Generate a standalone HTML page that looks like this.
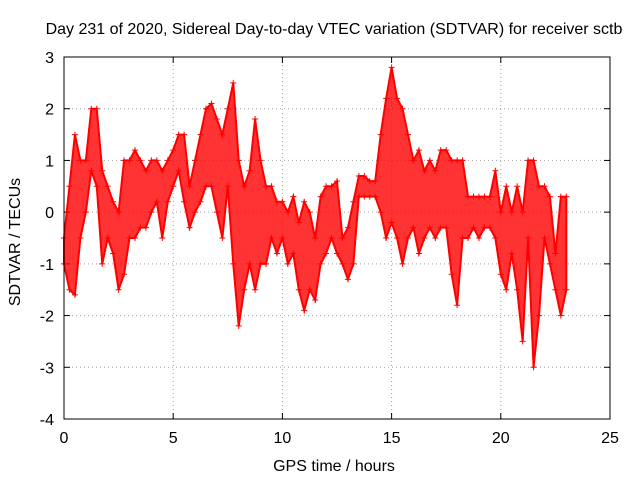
<!DOCTYPE html>
<html><head><meta charset="utf-8">
<style>
body{margin:0;background:#fff;}
svg text{font-family:"Liberation Sans",sans-serif;fill:#000;}
</style></head>
<body>
<svg id="chart" width="640" height="480" viewBox="0 0 640 480" xmlns="http://www.w3.org/2000/svg">
<rect width="640" height="480" fill="#fff"/>
<text x="334" y="34" font-size="16" text-anchor="middle">Day 231 of 2020, Sidereal Day-to-day VTEC variation (SDTVAR) for receiver sctb</text>
<g id="grid"></g>
<g id="ticks"></g>
<g id="series"></g>
<rect x="64" y="57" width="546" height="362" fill="none" stroke="#000" stroke-width="1"/>
<text x="334" y="471" font-size="16" text-anchor="middle">GPS time / hours</text>
<text x="0" y="0" font-size="16" text-anchor="middle" transform="translate(20,242) rotate(-90)">SDTVAR / TECUs</text>
</svg>
<script>
const xTicks=[0,5,10,15,20,25];
const yTicks=[-4,-3,-2,-1,0,1,2,3];
const times=[0,0.25,0.5,0.75,1,1.25,1.5,1.75,2,2.25,2.5,2.75,3,3.25,3.5,3.75,4,4.25,4.5,4.75,5,5.25,5.5,5.75,6,6.25,6.5,6.75,7,7.25,7.5,7.75,8,8.25,8.5,8.75,9,9.25,9.5,9.75,10,10.25,10.5,10.75,11,11.25,11.5,11.75,12,12.25,12.5,12.75,13,13.25,13.5,13.75,14,14.25,14.5,14.75,15,15.25,15.5,15.75,16,16.25,16.5,16.75,17,17.25,17.5,17.75,18,18.25,18.5,18.75,19,19.25,19.5,19.75,20,20.25,20.5,20.75,21,21.25,21.5,21.75,22,22.25,22.5,22.75,23];
const hiVals=[-0.5,0.5,1.5,1.0,1.0,2.0,2.0,0.8,0.5,0.2,0,1.0,1.0,1.2,1.0,0.8,1.0,1.0,0.8,1.0,1.2,1.5,1.5,0.5,1.0,1.5,2.0,2.1,1.8,1.5,2.0,2.5,1.0,0.5,0.8,1.8,1.0,0.5,0.5,0.2,0.2,0,0.3,-0.2,0.2,0,-0.5,0.3,0.5,0.5,0.6,-0.5,-0.3,0.2,0.7,0.7,0.6,0.6,1.5,2.2,2.8,2.2,2.0,1.5,1.0,1.2,0.8,1.0,0.8,1.2,1.2,1.0,1.0,1.0,0.3,0.3,0.3,0.3,0.3,0.8,0,0.5,0,0.5,0,1.0,1.0,0.5,0.5,0.3,-0.8,0.3,0.3];
const loVals=[-1.0,-1.5,-1.6,-0.5,0,0.8,0.5,-1.0,-0.5,-0.8,-1.5,-1.2,-0.5,-0.5,-0.3,-0.3,0,0.2,-0.5,0.2,0.5,0.8,0.2,-0.3,0,0.2,0.5,0.5,0,-0.5,0.5,-1.0,-2.2,-1.5,-1.0,-1.5,-1.0,-1.0,-0.5,-0.8,-0.5,-1.0,-0.8,-1.5,-1.9,-1.5,-1.7,-1.0,-0.8,-0.5,-0.8,-1.0,-1.3,-1.0,0.3,0.3,0.3,0.3,0,-0.5,-0.2,-0.5,-1.0,-0.5,-0.3,-0.8,-0.5,-0.3,-0.5,-0.3,-0.3,-1.2,-1.8,-0.5,-0.5,-0.3,-0.5,-0.3,-0.3,-0.5,-1.2,-1.5,-0.8,-1.5,-2.5,-0.5,-3.0,-2.0,-0.5,-1.0,-1.5,-2.0,-1.5];
const X0=64,X1=610,Y0=419,Y1=57;
const xs=v=>X0+(v-0)/(25-0)*(X1-X0);
const ys=v=>Y0-(v+4)/(3+4)*(Y0-Y1);
const NS='http://www.w3.org/2000/svg';
const grid=document.getElementById('grid'),ticks=document.getElementById('ticks'),series=document.getElementById('series');
function mk(tag,attrs,parent){const e=document.createElementNS(NS,tag);for(const k in attrs)e.setAttribute(k,attrs[k]);parent.appendChild(e);return e;}
xTicks.forEach(t=>{const x=xs(t);
 if(t>0&&t<25){const g=mk('line',{x1:x,x2:x,y1:Y1,y2:Y0,stroke:'#a0a0a0','stroke-dasharray':'1,3'},grid);
 
 }
 mk('line',{x1:x,x2:x,y1:Y0,y2:Y0-6,stroke:'#000'},ticks);mk('line',{x1:x,x2:x,y1:Y1,y2:Y1+6,stroke:'#000'},ticks);
 const l=mk('text',{x:x,y:Y0+24,'font-size':16,'text-anchor':'middle'},ticks);l.textContent=t;
 
 });
yTicks.forEach(t=>{const y=ys(t);
 if(t>-4&&t<3){const g=mk('line',{x1:X0,x2:X1,y1:y,y2:y,stroke:'#a0a0a0','stroke-dasharray':'1,3'},grid);
 
 }
 mk('line',{x1:X0,x2:X0+6,y1:y,y2:y,stroke:'#000'},ticks);mk('line',{x1:X1,x2:X1-6,y1:y,y2:y,stroke:'#000'},ticks);
 const l=mk('text',{x:X0-10,y:y+6,'font-size':16,'text-anchor':'end'},ticks);l.textContent=t;
 
 });
let pts=times.map((t,i)=>xs(t)+','+ys(hiVals[i]));
pts=pts.concat(times.map((t,i)=>xs(t)+','+ys(loVals[i])).reverse());
const band=mk('polygon',{points:pts.join(' '),fill:'#ff0000','fill-opacity':0.8,stroke:'#ff0000','stroke-width':2},series);


function plus(x,y){const p=mk('path',{d:`M${x-3},${y}h6M${x},${y-3}v6`,stroke:'#ff0000','stroke-width':1},series);
 
 }
times.forEach((t,i)=>{plus(xs(t),ys(hiVals[i]));plus(xs(t),ys(loVals[i]));});
</script>
</body></html>
